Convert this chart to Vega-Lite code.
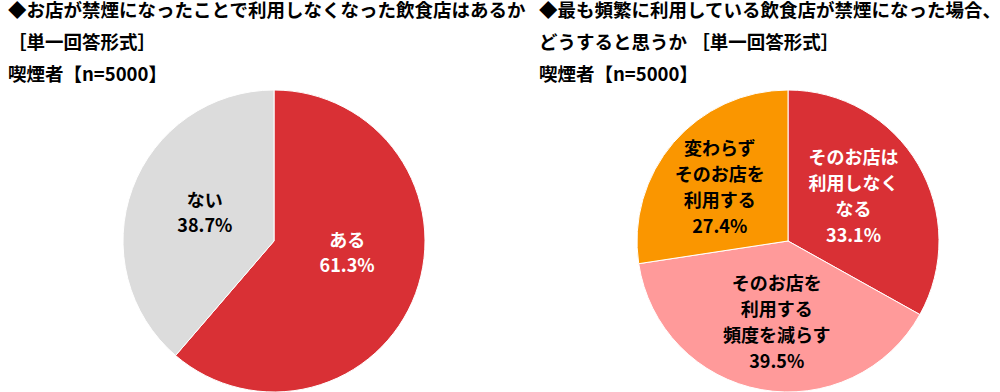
{
  "$schema": "https://vega.github.io/schema/vega-lite/v6.json",
  "padding": {"top": 1, "left": 0, "right": 0, "bottom": 0},
  "spacing": 0,
  "background": "white",
  "resolve": {"scale": {"color": "independent"}},
  "config": {
    "view": {"stroke": null},
    "font": "Noto Sans CJK JP",
    "title": {"font": "Noto Sans CJK JP", "fontSize": 18.5, "fontWeight": "bold", "color": "#000000", "anchor": "start", "frame": "group", "lineHeight": 32, "offset": 0}
  },
  "datasets": {
    "q1": [
      {"cat": "ある", "label": "ある", "value": 61.3, "order": 1},
      {"cat": "ない", "label": "ない", "value": 38.7, "order": 2}
    ],
    "q2": [
      {"cat": "そのお店は利用しなくなる", "label": "そのお店は\n利用しなく\nなる", "value": 33.1, "order": 1},
      {"cat": "そのお店を利用する頻度を減らす", "label": "そのお店を\n利用する\n頻度を減らす", "value": 39.5, "order": 2},
      {"cat": "変わらずそのお店を利用する", "label": "変わらず\nそのお店を\n利用する", "value": 27.4, "order": 3}
    ]
  },
  "hconcat": [
    {
      "width": 539,
      "height": 302,
      "title": {"text": ["◆お店が禁煙になったことで利用しなくなった飲食店はあるか", "［単一回答形式］", "喫煙者【n=5000】"], "dx": 8},
      "data": {"name": "q1"},
      "transform": [
        {"stack": "value", "groupby": [], "sort": [{"field": "order", "order": "ascending"}], "as": ["v0", "v1"]},
        {"calculate": "(datum.v0 + datum.v1) / 2", "as": "mid"},
        {"calculate": "datum.label + '\\n' + format(datum.value, '.1f') + '%'", "as": "text"}
      ],
      "layer": [
        {
          "mark": {"type": "arc", "stroke": "white", "strokeWidth": 1, "xOffset": 4.5},
          "encoding": {
            "theta": {"field": "v0", "type": "quantitative", "scale": {"domain": [0, 100]}},
            "theta2": {"field": "v1"},
            "color": {"field": "cat", "type": "nominal", "legend": null,
              "scale": {"domain": ["ある", "ない"], "range": ["#D93035", "#DCDCDC"]}}
          }
        },
        {
          "transform": [{"filter": "datum.order === 1"}],
          "mark": {"type": "text", "radius": 78, "xOffset": 4.5, "yOffset": -26, "lineBreak": "\n", "fontSize": 18, "fontWeight": "bold", "lineHeight": 25, "font": "Noto Sans CJK JP", "color": "white"},
          "encoding": {
            "theta": {"field": "mid", "type": "quantitative"},
            "text": {"field": "text"}
          }
        },
        {
          "transform": [{"filter": "datum.order === 2"}],
          "mark": {"type": "text", "radius": 78, "xOffset": 8.5, "yOffset": -12, "lineBreak": "\n", "fontSize": 18, "fontWeight": "bold", "lineHeight": 25, "font": "Noto Sans CJK JP", "color": "black"},
          "encoding": {
            "theta": {"field": "mid", "type": "quantitative"},
            "text": {"field": "text"}
          }
        }
      ]
    },
    {
      "width": 461,
      "height": 302,
      "title": {"text": ["◆最も頻繁に利用している飲食店が禁煙になった場合、", "どうすると思うか ［単一回答形式］", "喫煙者【n=5000】"]},
      "data": {"name": "q2"},
      "transform": [
        {"stack": "value", "groupby": [], "sort": [{"field": "order", "order": "ascending"}], "as": ["v0", "v1"]},
        {"calculate": "(datum.v0 + datum.v1) / 2", "as": "mid"},
        {"calculate": "datum.label + '\\n' + format(datum.value, '.1f') + '%'", "as": "text"}
      ],
      "layer": [
        {
          "mark": {"type": "arc", "stroke": "white", "strokeWidth": 1, "xOffset": 18.5},
          "encoding": {
            "theta": {"field": "v0", "type": "quantitative", "scale": {"domain": [0, 100]}},
            "theta2": {"field": "v1"},
            "color": {"field": "cat", "type": "nominal", "legend": null,
              "scale": {"domain": ["そのお店は利用しなくなる", "そのお店を利用する頻度を減らす", "変わらずそのお店を利用する"], "range": ["#D93035", "#FF9A9A", "#FA9600"]}}
          }
        },
        {
          "transform": [{"filter": "datum.order === 1"}],
          "mark": {"type": "text", "radius": 76, "xOffset": 18.5, "yOffset": -44, "lineBreak": "\n", "fontSize": 18, "fontWeight": "bold", "lineHeight": 26, "font": "Noto Sans CJK JP", "color": "white"},
          "encoding": {
            "theta": {"field": "mid", "type": "quantitative"},
            "text": {"field": "text"}
          }
        },
        {
          "transform": [{"filter": "datum.order === 2"}],
          "mark": {"type": "text", "radius": 80, "xOffset": 21.5, "yOffset": -35, "lineBreak": "\n", "fontSize": 18, "fontWeight": "bold", "lineHeight": 26, "font": "Noto Sans CJK JP", "color": "black"},
          "encoding": {
            "theta": {"field": "mid", "type": "quantitative"},
            "text": {"field": "text"}
          }
        },
        {
          "transform": [{"filter": "datum.order === 3"}],
          "mark": {"type": "text", "radius": 90, "xOffset": 18.5, "yOffset": -32, "lineBreak": "\n", "fontSize": 18, "fontWeight": "bold", "lineHeight": 26, "font": "Noto Sans CJK JP", "color": "black"},
          "encoding": {
            "theta": {"field": "mid", "type": "quantitative"},
            "text": {"field": "text"}
          }
        }
      ]
    }
  ]
}
